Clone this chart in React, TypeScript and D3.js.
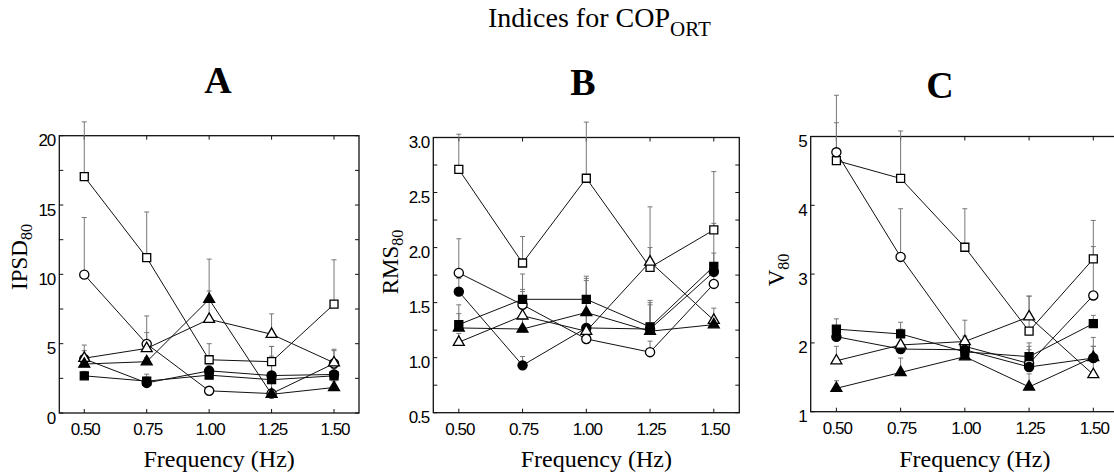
import React from "react";
import * as d3 from "d3";

const FREQS = [0.5, 0.75, 1.0, 1.25, 1.5];
const X_TICK_LABELS = ["0.50", "0.75", "1.00", "1.25", "1.50"];

const A_OPEN_SQUARE = [17.05, 11.2, 3.84, 3.7, 7.85];
const A_OPEN_SQUARE_ERR = [21.0, 14.5, 5.0, 4.8, 11.05];
const A_OPEN_CIRCLE = [9.98, 4.98, 1.6, 1.4, 3.57];
const A_OPEN_CIRCLE_ERR = [14.1, 7.0, 1.9, 1.7, 4.6];
const A_FILLED_SQUARE = [2.68, 2.3, 2.73, 2.4, 2.68];
const A_FILLED_SQUARE_ERR = [3.0, 2.8, 3.1, 2.8, 3.0];
const A_FILLED_CIRCLE = [3.9, 2.17, 3.04, 2.7, 2.78];
const A_FILLED_CIRCLE_ERR = [4.5, 2.6, 3.4, 4.1, 3.2];
const A_OPEN_TRIANGLE = [3.95, 4.66, 6.76, 5.68, 3.62];
const A_OPEN_TRIANGLE_ERR = [4.9, 5.8, 8.8, 7.15, 4.5];
const A_FILLED_TRIANGLE = [3.53, 3.7, 8.2, 1.35, 1.84];
const A_FILLED_TRIANGLE_ERR = [3.9, 4.0, 11.1, 4.8, 2.3];

const B_OPEN_SQUARE = [2.71, 1.86, 2.63, 1.82, 2.16];
const B_OPEN_SQUARE_ERR = [3.03, 2.1, 3.14, 2.37, 2.69];
const B_OPEN_CIRCLE = [1.77, 1.48, 1.17, 1.05, 1.67];
const B_OPEN_CIRCLE_ERR = [2.08, 1.6, 1.3, 1.15, 1.8];
const B_FILLED_SQUARE = [1.3, 1.53, 1.53, 1.28, 1.83];
const B_FILLED_SQUARE_ERR = [1.48, 1.76, 1.74, 1.52, 2.22];
const B_FILLED_CIRCLE = [1.6, 0.93, 1.27, 1.26, 1.78];
const B_FILLED_CIRCLE_ERR = [1.72, 1.01, 1.4, 1.5, 1.95];
const B_OPEN_TRIANGLE = [1.14, 1.38, 1.24, 1.87, 1.34];
const B_OPEN_TRIANGLE_ERR = [1.22, 1.62, 1.72, 2.0, 1.45];
const B_FILLED_TRIANGLE = [1.27, 1.26, 1.41, 1.24, 1.3];
const B_FILLED_TRIANGLE_ERR = [1.4, 1.35, 1.7, 1.48, 1.35];

const C_OPEN_SQUARE = [4.65, 4.39, 3.39, 2.17, 3.22];
const C_OPEN_SQUARE_ERR = [5.6, 5.08, 3.95, 2.68, 3.78];
const C_OPEN_CIRCLE = [4.77, 3.25, 1.95, 1.7, 2.69];
const C_OPEN_CIRCLE_ERR = [5.2, 3.95, 2.1, 1.9, 3.4];
const C_FILLED_SQUARE = [2.2, 2.13, 1.87, 1.8, 2.28];
const C_FILLED_SQUARE_ERR = [2.35, 2.3, 2.0, 2.0, 2.4];
const C_FILLED_CIRCLE = [2.09, 1.91, 1.9, 1.65, 1.78];
const C_FILLED_CIRCLE_ERR = [2.2, 2.2, 2.0, 1.95, 2.08];
const C_OPEN_TRIANGLE = [1.74, 1.97, 2.02, 2.38, 1.54];
const C_OPEN_TRIANGLE_ERR = [1.95, 2.15, 2.33, 2.68, 1.95];
const C_FILLED_TRIANGLE = [1.34, 1.57, 1.8, 1.36, 1.79];
const C_FILLED_TRIANGLE_ERR = [1.45, 1.78, 1.9, 1.55, 1.95];

const A_Y_TICKS = [0, 5, 10, 15, 20];
const A_Y_LABELS = ["0", "5", "10", "15", "20"];
const B_Y_TICKS = [0.5, 1.0, 1.5, 2.0, 2.5, 3.0];
const B_Y_LABELS = ["0.5", "1.0", "1.5", "2.0", "2.5", "3.0"];
const C_Y_TICKS = [1, 2, 3, 4, 5];
const C_Y_LABELS = ["1", "2", "3", "4", "5"];

type Shape = "square" | "circle" | "triangle";
const MARKERS: { shape: Shape; filled: boolean }[] = [
  { shape: "square", filled: false },
  { shape: "circle", filled: false },
  { shape: "square", filled: true },
  { shape: "circle", filled: true },
  { shape: "triangle", filled: false },
  { shape: "triangle", filled: true },
];

const SERIF = "'Liberation Serif', 'Times New Roman', serif";
const SANS = "'Liberation Sans', Arial, sans-serif";

const PANELS = [
  {
    letter: "A", letterX: 218, letterY: 93, label: "IPSD", labelX: 27, labelY: 257,
    left: 59.3, right: 359, top: 135.7, bottom: 413,
    yDomain: [0, 20], yTicks: A_Y_TICKS, yLabels: A_Y_LABELS, yMinorStep: 2.5,
    series: [A_OPEN_SQUARE, A_OPEN_CIRCLE, A_FILLED_SQUARE, A_FILLED_CIRCLE, A_OPEN_TRIANGLE, A_FILLED_TRIANGLE],
    errs: [A_OPEN_SQUARE_ERR, A_OPEN_CIRCLE_ERR, A_FILLED_SQUARE_ERR, A_FILLED_CIRCLE_ERR, A_OPEN_TRIANGLE_ERR, A_FILLED_TRIANGLE_ERR],
  },
  {
    letter: "B", letterX: 583, letterY: 95, label: "RMS", labelX: 398, labelY: 262,
    left: 433.3, right: 739.3, top: 137.5, bottom: 412.7,
    yDomain: [0.5, 3.0], yTicks: B_Y_TICKS, yLabels: B_Y_LABELS, yMinorStep: 0.25,
    series: [B_OPEN_SQUARE, B_OPEN_CIRCLE, B_FILLED_SQUARE, B_FILLED_CIRCLE, B_OPEN_TRIANGLE, B_FILLED_TRIANGLE],
    errs: [B_OPEN_SQUARE_ERR, B_OPEN_CIRCLE_ERR, B_FILLED_SQUARE_ERR, B_FILLED_CIRCLE_ERR, B_OPEN_TRIANGLE_ERR, B_FILLED_TRIANGLE_ERR],
  },
  {
    letter: "C", letterX: 940, letterY: 98, label: "V", labelX: 784, labelY: 270,
    left: 810.7, right: 1119, top: 136.5, bottom: 411.7,
    yDomain: [1, 5], yTicks: C_Y_TICKS, yLabels: C_Y_LABELS, yMinorStep: 1,
    series: [C_OPEN_SQUARE, C_OPEN_CIRCLE, C_FILLED_SQUARE, C_FILLED_CIRCLE, C_OPEN_TRIANGLE, C_FILLED_TRIANGLE],
    errs: [C_OPEN_SQUARE_ERR, C_OPEN_CIRCLE_ERR, C_FILLED_SQUARE_ERR, C_FILLED_CIRCLE_ERR, C_OPEN_TRIANGLE_ERR, C_FILLED_TRIANGLE_ERR],
  },
];

function symbolPath(shape: Shape) {
  if (shape === "square") return d3.symbol(d3.symbolSquare, 64)()!;
  if (shape === "circle") return d3.symbol(d3.symbolCircle, 66)()!;
  return d3.symbol(d3.symbolTriangle, 52)()!;
}

function Panel({ p }: { p: (typeof PANELS)[number] }) {
  const x = d3.scaleLinear().domain([0.4, 1.6]).range([p.left, p.right]);
  const y = d3.scaleLinear().domain(p.yDomain).range([p.bottom, p.top]);
  const line = d3.line<number>().x((_, i) => x(FREQS[i])).y((v) => y(v));
  const minor = d3.range(p.yDomain[0], p.yDomain[1] + 1e-9, p.yMinorStep);
  const tl = 4;
  const axisColor = "#111";
  return (
    <g>
      <text x={p.letterX} y={p.letterY} textAnchor="middle" fontFamily={SERIF} fontWeight="bold" fontSize={38}>
        {p.letter}
      </text>
      <rect x={p.left} y={p.top} width={p.right - p.left} height={p.bottom - p.top} fill="none" stroke={axisColor} strokeWidth={1.3} />
      {minor.map((v, i) => (
        <g key={"yt" + i}>
          <line x1={p.left} x2={p.left + tl} y1={y(v)} y2={y(v)} stroke={axisColor} strokeWidth={1} />
          <line x1={p.right} x2={p.right - tl} y1={y(v)} y2={y(v)} stroke={axisColor} strokeWidth={1} />
        </g>
      ))}
      {p.yTicks.map((v, i) => (
        <text key={"yl" + i} x={p.left - 4} y={y(v) + 10.5} textAnchor="end" fontFamily={SANS} fontSize={17} letterSpacing={-1}>
          {p.yLabels[i]}
        </text>
      ))}
      {FREQS.map((f, i) => (
        <g key={"xt" + i}>
          <line x1={x(f)} x2={x(f)} y1={p.bottom} y2={p.bottom - tl} stroke={axisColor} strokeWidth={1} />
          <line x1={x(f)} x2={x(f)} y1={p.top} y2={p.top + tl} stroke={axisColor} strokeWidth={1} />
          <text x={x(f) + 1} y={p.bottom + 22} textAnchor="middle" fontFamily={SANS} fontSize={17} letterSpacing={-1}>
            {X_TICK_LABELS[i]}
          </text>
        </g>
      ))}
      <text x={(p.left + p.right) / 2 + 10} y={467} textAnchor="middle" fontFamily={SERIF} fontSize={24}>
        Frequency (Hz)
      </text>
      <text transform={`translate(${p.labelX},${p.labelY}) rotate(-90)`} textAnchor="middle" fontFamily={SERIF} fontSize={23}>
        {p.label}
        <tspan fontSize={16} dy={5}>80</tspan>
      </text>
      {p.series.map((s, si) =>
        s.map((v, i) => {
          const e = p.errs[si][i];
          return (
            <g key={`e${si}-${i}`}>
              <line x1={x(FREQS[i])} x2={x(FREQS[i])} y1={y(v)} y2={y(e)} stroke="#777" strokeWidth={1} />
              <line x1={x(FREQS[i]) - 2.5} x2={x(FREQS[i]) + 2.5} y1={y(e)} y2={y(e)} stroke="#777" strokeWidth={1} />
            </g>
          );
        })
      )}
      {p.series.map((s, si) => (
        <path key={"l" + si} d={line(s)!} fill="none" stroke="#111" strokeWidth={1} />
      ))}
      {p.series.map((s, si) =>
        s.map((v, i) => (
          <path
            key={`m${si}-${i}`}
            d={symbolPath(MARKERS[si].shape)}
            transform={`translate(${x(FREQS[i])},${y(v)})`}
            fill={MARKERS[si].filled ? "#000" : "#fff"}
            stroke="#000"
            strokeWidth={1.3}
          />
        ))
      )}
    </g>
  );
}

export default function App() {
  return (
    <svg width={1114} height={474} style={{ position: "absolute", left: 0, top: 0, background: "#fff" }}>
      <rect width={1114} height={474} fill="#fff" />
      <text x={488} y={27} fontFamily={SERIF} fontSize={28}>
        Indices for COP
        <tspan fontSize={21} dy={9}>ORT</tspan>
      </text>
      {PANELS.map((p) => (
        <Panel key={p.letter} p={p} />
      ))}
    </svg>
  );
}
